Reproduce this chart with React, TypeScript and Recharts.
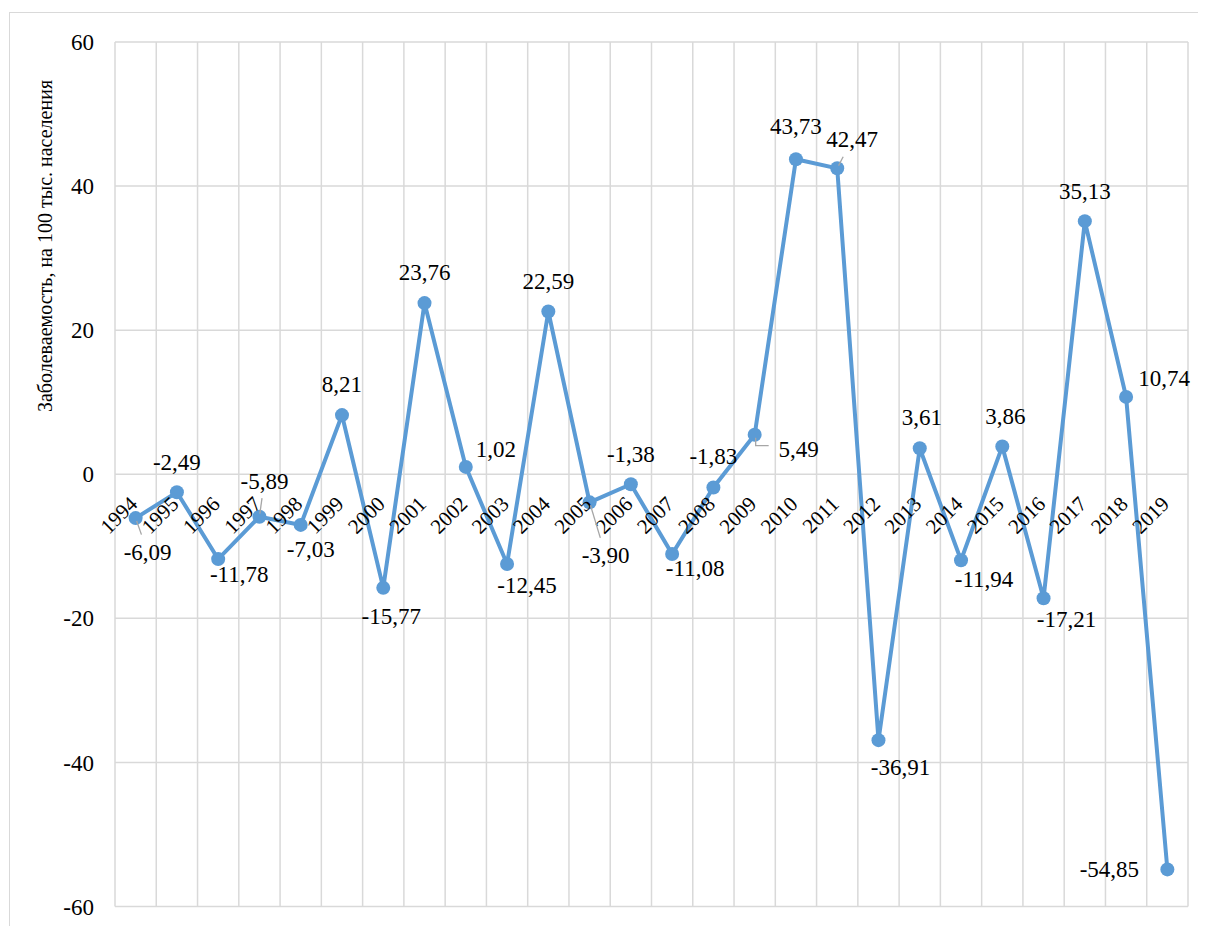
import React from 'react';
import { LineChart, Line, XAxis, YAxis, CartesianGrid, LabelList } from 'recharts';

const years = [
  '1994', '1995', '1996', '1997', '1998', '1999', '2000', '2001', '2002', '2003',
  '2004', '2005', '2006', '2007', '2008', '2009', '2010', '2011', '2012', '2013',
  '2014', '2015', '2016', '2017', '2018', '2019',
];

const values = [
  -6.09, -2.49, -11.78, -5.89, -7.03, 8.21, -15.77, 23.76, 1.02, -12.45,
  22.59, -3.9, -1.38, -11.08, -1.83, 5.49, 43.73, 42.47, -36.91, 3.61,
  -11.94, 3.86, -17.21, 35.13, 10.74, -54.85,
];

const yTicks = [-60, -40, -20, 0, 20, 40, 60];

const axisTitle = 'Заболеваемость, на 100 тыс. населения';

// label placement relative to each point (style only)
const labelOffsets: [number, number][] = [
  [12, 34], [0, -30], [21, 15], [5, -36], [10, 24], [0, -31], [8, 28], [0, -31], [30, -18], [20, 21],
  [0, -31], [16, 53], [0, -30], [23, 14], [0, -31], [44, 14], [0, -33], [15, -29], [22, 27], [2, -31],
  [23, 19], [3, -30], [23, 21], [0, -30], [38, -19], [-58, 0],
];

const leaderKinds: string[] = [
  'line', '', '', 'line', '', '', '', '', '', '',
  '', 'line', '', '', '', 'elbow', '', 'line', '', '',
  '', '', '', '', '', '',
];

const data = years.map((year, i) => ({ idx: i, year, value: values[i] }));
const gridTicks = [...years.map((_, i) => i - 0.5), years.length - 0.5];

const BLUE = '#5B9BD5';
const FONT = 'Liberation Serif, Tinos, Times New Roman, DejaVu Serif, serif';

const getXY = (props: any) => {
  const vb = props.viewBox || {};
  const x = typeof vb.x === 'number' ? vb.x + (vb.width || 0) / 2 : props.x;
  const y = typeof vb.y === 'number' ? vb.y + (vb.height || 0) / 2 : props.y;
  return { x, y };
};

const ValueLabel = (props: any) => {
  const { x, y } = getXY(props);
  const value = props.value;
  const i = values.indexOf(value);
  if (i < 0 || x == null || y == null) return null;
  const [dx, dy] = labelOffsets[i];
  const lx = x + dx;
  const ly = y + dy;
  const text = Number(value).toFixed(2).replace('.', ',');
  let leader: React.ReactNode = null;
  const kind = leaderKinds[i];
  if (kind === 'line') {
    const endY = ly - Math.sign(dy) * 17.5;
    const t = (endY - y) / dy;
    const endX = x + dx * t;
    const len = Math.hypot(endX - x, endY - y);
    const sx = x + ((endX - x) / len) * 3;
    const sy = y + ((endY - y) / len) * 3;
    leader = <line x1={sx} y1={sy} x2={endX} y2={endY} stroke="#A6A6A6" strokeWidth={1.3} />;
  } else if (kind === 'elbow') {
    leader = (
      <polyline
        points={`${x + 1},${y + 3} ${x + 1},${ly - 3} ${lx - 30},${ly - 3}`}
        fill="none"
        stroke="#A6A6A6"
        strokeWidth={1.3}
      />
    );
  }
  return (
    <g>
      {leader}
      <text x={lx} y={ly} dy={8} textAnchor="middle" fontSize={23} fill="#000" style={{ fontFamily: FONT }}>
        {text}
      </text>
    </g>
  );
};

const YearLabel = (props: any) => {
  const { x, y } = getXY(props);
  if (x == null || y == null) return null;
  const ex = x + 3;
  const ey = y + 31;
  return (
    <text
      x={ex}
      y={ey}
      textAnchor="end"
      fontSize={21}
      fill="#000"
      style={{ fontFamily: FONT }}
      transform={`rotate(-45, ${ex}, ${ey})`}
    >
      {props.value}
    </text>
  );
};

const zeroKey = () => 0;

export default function App() {
  return (
    <div
      style={{
        position: 'relative',
        top: 4,
        left: 1,
        width: 1192,
        height: 940,
        border: '1px solid #D9D9D9',
        boxSizing: 'border-box',
        fontFamily: FONT,
        background: '#fff',
      }}
    >
      <div
        style={{
          position: 'absolute',
          left: 35,
          top: 233,
          transform: 'translate(-50%, -50%) rotate(-90deg)',
          whiteSpace: 'nowrap',
          fontSize: 20,
          fontFamily: FONT,
          color: '#000',
          lineHeight: 'normal',
        }}
      >
        {axisTitle}
      </div>
      <LineChart
        width={1189}
        height={920}
        data={data}
        margin={{ top: 29, right: 11, bottom: 26.5, left: 0 }}
        style={{ fontFamily: FONT }}
      >
        <CartesianGrid stroke="#D9D9D9" strokeWidth={1.5} />
        <XAxis
          dataKey="idx"
          type="number"
          domain={[-0.5, years.length - 0.5]}
          ticks={gridTicks}
          allowDataOverflow
          hide
        />
        <YAxis
          type="number"
          domain={[-60, 60]}
          ticks={yTicks}
          allowDataOverflow
          width={105}
          axisLine={false}
          tickLine={false}
          tickSize={0}
          tickMargin={21}
          tick={{ fontSize: 23, fill: '#000', style: { fontFamily: FONT } }}
          interval={0}
        />
        <Line
          dataKey={zeroKey}
          stroke="none"
          dot={false}
          activeDot={false}
          isAnimationActive={false}
          legendType="none"
        >
          <LabelList dataKey="year" content={YearLabel} />
        </Line>
        <Line
          dataKey="value"
          stroke={BLUE}
          strokeWidth={4}
          dot={{ r: 7, fill: BLUE, stroke: BLUE, strokeWidth: 0 }}
          activeDot={false}
          isAnimationActive={false}
        >
          <LabelList dataKey="value" content={ValueLabel} />
        </Line>
      </LineChart>
    </div>
  );
}
